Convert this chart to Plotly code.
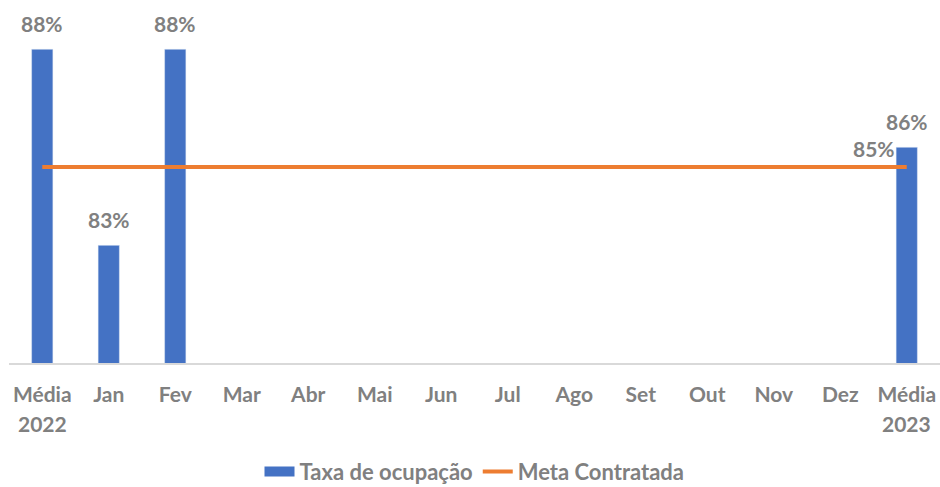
import plotly.graph_objects as go

categories = ["Média 2022", "Jan", "Fev", "Mar", "Abr", "Mai", "Jun", "Jul", "Ago", "Set", "Out", "Nov", "Dez", "Média 2023"]
tick_line1 = ["Média", "Jan", "Fev", "Mar", "Abr", "Mai", "Jun", "Jul", "Ago", "Set", "Out", "Nov", "Dez", "Média"]
tick_line2 = ["2022", "", "", "", "", "", "", "", "", "", "", "", "", "2023"]
taxa = [88, 83, 88, None, None, None, None, None, None, None, None, None, None, 85.5]
meta = [85] * 14

GRAY = "#808080"
FONT = "Lato"
BLUE = "#4472C4"
ORANGE = "#ED7D31"

fig = go.Figure()
fig.add_trace(go.Bar(
    x=categories, y=taxa, name="Taxa de ocupação",
    marker=dict(color=BLUE), width=0.32, showlegend=False,
))
# legend entry styled as a wide rectangle like the original
fig.add_trace(go.Scatter(
    x=[None], y=[None], name="Taxa de ocupação", mode="lines",
    line=dict(color=BLUE, width=10),
))
fig.add_trace(go.Scatter(
    x=categories, y=meta, name="Meta Contratada", mode="lines",
    line=dict(color=ORANGE, width=4),
))

annotations = []
for c, v in zip(categories, taxa):
    if v is not None:
        annotations.append(dict(
            x=c, y=v, xref="x", yref="y", text=f"{v:.0f}%", showarrow=False,
            yanchor="bottom", yshift=11,
            font=dict(family=FONT, size=21, color=GRAY, weight="bold"),
        ))
annotations.append(dict(
    x=categories[-1], y=meta[-1], xref="x", yref="y", text=f"{meta[-1]:.0f}%", showarrow=False,
    xanchor="right", yanchor="bottom", xshift=-10, yshift=4,
    font=dict(family=FONT, size=21, color=GRAY, weight="bold"),
))
for c, t in zip(categories, tick_line2):
    if t:
        annotations.append(dict(
            x=c, y=0, xref="x", yref="paper", text=t, showarrow=False,
            yanchor="middle", yshift=-60,
            font=dict(family=FONT, size=21, color=GRAY, weight="bold"),
        ))

fig.update_layout(
    width=940, height=487,
    margin=dict(l=9, r=0, t=10, b=124, autoexpand=False),
    paper_bgcolor="white", plot_bgcolor="white",
    showlegend=True,
    legend=dict(orientation="h", x=0.5, xanchor="center", y=-0.308, yanchor="middle",
                font=dict(family=FONT, size=22, color=GRAY, weight="bold"),
                tracegroupgap=0),
    annotations=annotations,
)
fig.update_xaxes(
    tickmode="array", tickvals=categories, ticktext=tick_line1,
    showline=True, linecolor="#D9D9D9", linewidth=1.5,
    showgrid=False, ticks="", ticklabelstandoff=12,
    tickfont=dict(family=FONT, size=21, color=GRAY, weight="bold"),
)
fig.update_yaxes(range=[80, 89], visible=False, showgrid=False)

fig.write_html("out.html", config={"displayModeBar": False},
               post_script="document.body.style.margin='0';document.body.style.overflow='hidden';")
